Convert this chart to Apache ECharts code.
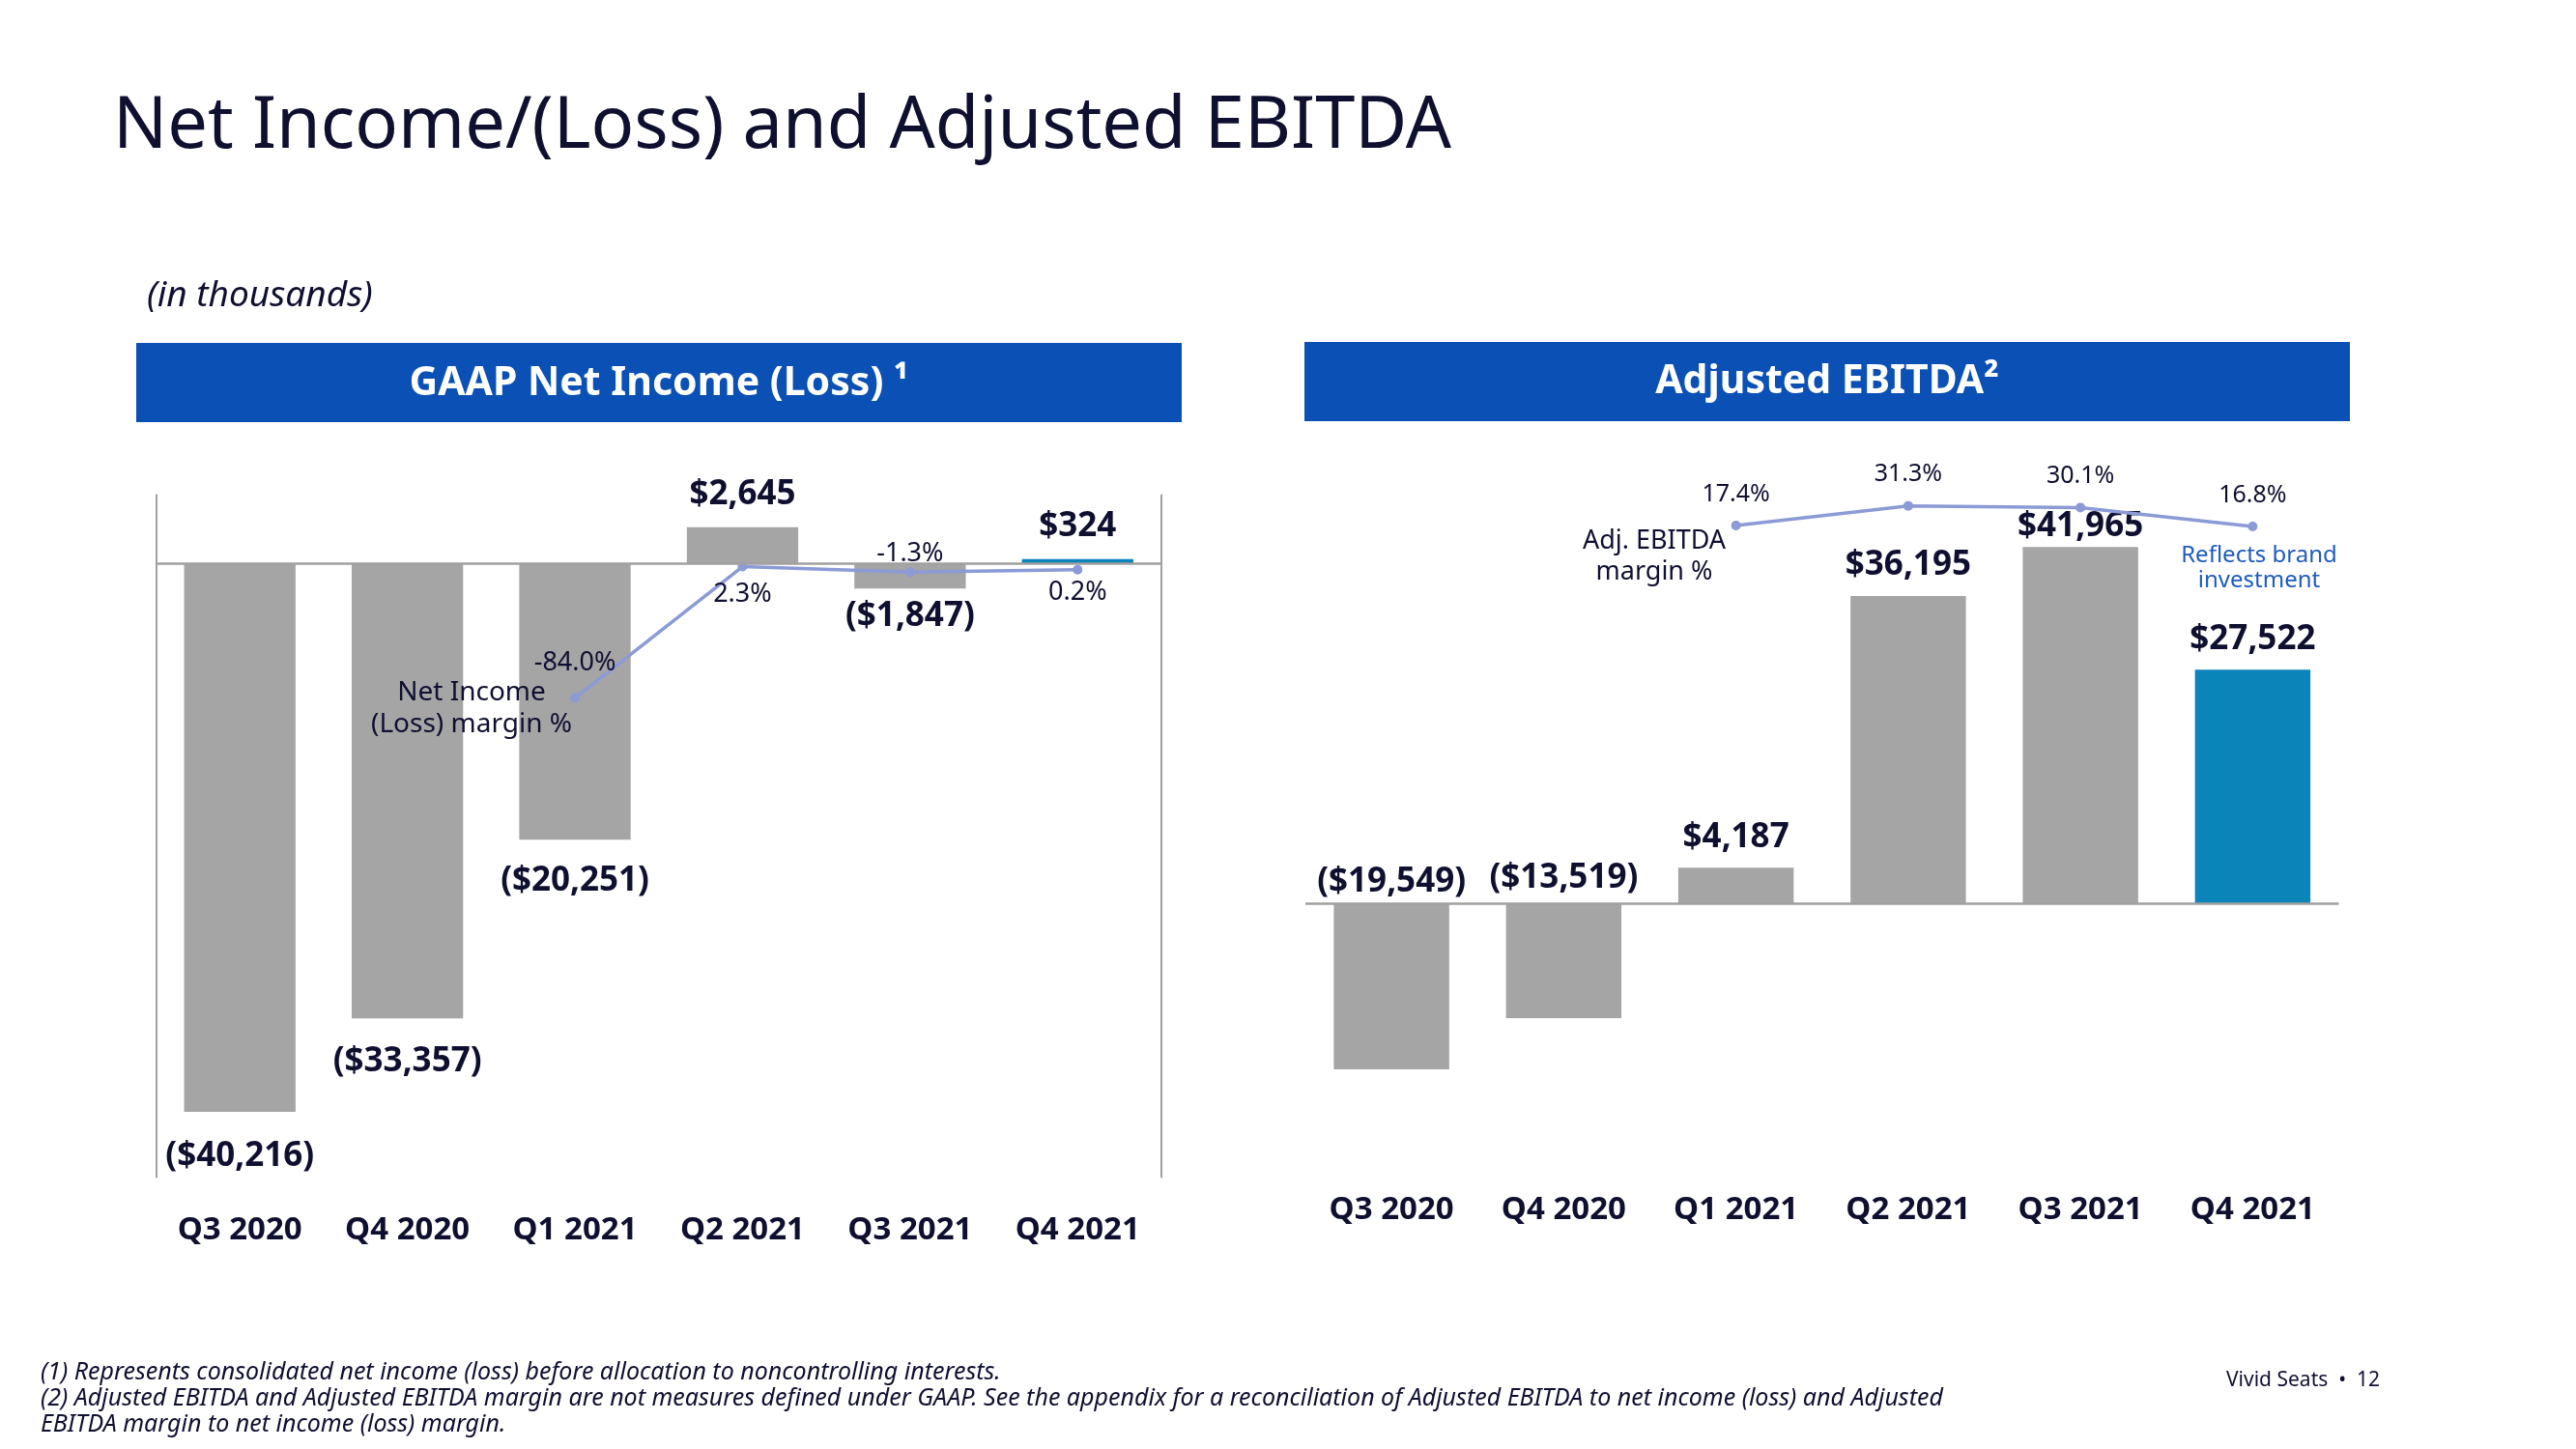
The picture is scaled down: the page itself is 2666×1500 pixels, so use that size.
<!DOCTYPE html>
<html>
<head>
<meta charset="utf-8">
<script src="https://cdn.jsdelivr.net/npm/echarts@6/dist/echarts.min.js"></script>
<style>
html,body{margin:0;padding:0;background:#fff;}
#chart{width:2666px;height:1500px;}
</style>
</head>
<body>
<div id="chart"></div>
<script>
// ---- data ----
const categories = ['Q3 2020', 'Q4 2020', 'Q1 2021', 'Q2 2021', 'Q3 2021', 'Q4 2021'];
const netIncome = [-40216, -33357, -20251, 2645, -1847, 324];
const netIncomeMargin = [null, null, -84.0, 2.3, -1.3, 0.2];
const adjEbitda = [-19549, -13519, 4187, 36195, 41965, 27522];
const adjEbitdaMargin = [null, null, 17.4, 31.3, 30.1, 16.8];
const highlightIndex = 5; // Q4 2021 drawn in blue

// ---- styles ----
const FONT = "'Noto Sans', 'Open Sans', sans-serif";
const NAVY = '#0f0f30';
const GRAY = '#a5a5a5';
const BLUE_BAR = '#0b84ba';
const HEADER = '#0b50b5';
const LINE = '#8c9ad6';
const AXIS = '#a0a0a0';

function money(v) {
  const s = '$' + Math.abs(v).toLocaleString('en-US');
  return v < 0 ? '(' + s + ')' : s;
}
function pct(v) { return v.toFixed(1) + '%'; }

const chart = echarts.init(document.getElementById('chart'), null, {renderer: 'canvas'});

const barLabelBase = {show: true, fontFamily: FONT, fontWeight: 'bold', fontSize: 35, color: NAVY, formatter: p => money(p.value)};

// left chart bars: negative labels below, positive above
const leftDist = {0: 28, 1: 27, 2: 25, 4: 11};
const leftBarData = netIncome.map((v, i) => ({
  value: v,
  itemStyle: {color: i === highlightIndex ? BLUE_BAR : GRAY},
  label: {position: v < 0 ? 'bottom' : 'top', distance: leftDist[i] !== undefined ? leftDist[i] : 16}
}));
// right chart bars: all labels above the visual top
const rightDist = {0: 5, 1: 9, 3: 14, 4: 4};
const rightBarData = adjEbitda.map((v, i) => ({
  value: v,
  itemStyle: {color: i === highlightIndex ? BLUE_BAR : GRAY},
  label: {position: 'top', distance: rightDist[i] !== undefined ? rightDist[i] : 14}
}));

const leftLinePos = {2: ['top', 18], 3: ['bottom', 10], 4: ['top', 0], 5: ['bottom', 5]};
const leftLineData = netIncomeMargin.map((v, i) => v === null ? null : ({
  value: v,
  label: {position: leftLinePos[i][0], distance: leftLinePos[i][1]}
}));

const zeroLine = {
  silent: true, symbol: 'none',
  label: {show: false},
  lineStyle: {color: AXIS, width: 2.5, type: 'solid'},
  data: [{yAxis: 0}]
};

const catAxisLabel = {fontFamily: FONT, fontWeight: 'bold', fontSize: 33, color: NAVY};

function txt(text, x, y, opt) {
  return {
    type: 'text', x: x, y: y, silent: true, z: 100,
    style: Object.assign({
      text: text, fill: NAVY, font: opt.font,
      textAlign: opt.align || 'left', align: opt.align || 'left',
      textVerticalAlign: 'middle', verticalAlign: 'middle',
      lineHeight: opt.lineHeight
    }, opt.style || {})
  };
}

const option = {
  backgroundColor: '#ffffff',
  animation: false,
  grid: [
    {left: 161.5, width: 1040.5, top: 512.6, height: 706, containLabel: false},
    {left: 1351, width: 1069.5, top: 495.6, height: 720.9, containLabel: false}
  ],
  xAxis: [
    {type: 'category', gridIndex: 0, data: categories, position: 'bottom',
     axisLine: {show: false, onZero: false}, axisTick: {show: false},
     axisLabel: Object.assign({margin: 38}, catAxisLabel)},
    {type: 'category', gridIndex: 1, data: categories, position: 'bottom',
     axisLine: {show: false, onZero: false}, axisTick: {show: false},
     axisLabel: Object.assign({margin: 20}, catAxisLabel)}
  ],
  yAxis: [
    {type: 'value', gridIndex: 0, min: -45000, max: 5000, position: 'left',
     axisLine: {show: true, lineStyle: {color: AXIS, width: 2}}, axisTick: {show: false},
     axisLabel: {show: false}, splitLine: {show: false}},
    {type: 'value', gridIndex: 0, min: -398.7, max: 49.2, position: 'right',
     axisLine: {show: true, lineStyle: {color: AXIS, width: 2}}, axisTick: {show: false},
     axisLabel: {show: false}, splitLine: {show: false}},
    {type: 'value', gridIndex: 1, min: -32000, max: 50000,
     axisLine: {show: false}, axisTick: {show: false},
     axisLabel: {show: false}, splitLine: {show: false}},
    {type: 'value', gridIndex: 1, min: -440.7, max: 50.4,
     axisLine: {show: false}, axisTick: {show: false},
     axisLabel: {show: false}, splitLine: {show: false}}
  ],
  series: [
    {type: 'bar', xAxisIndex: 0, yAxisIndex: 0, data: leftBarData, barCategoryGap: '33.5%',
     label: barLabelBase, markLine: zeroLine, z: 2},
    {type: 'line', xAxisIndex: 0, yAxisIndex: 1, data: leftLineData, connectNulls: false,
     symbol: 'circle', symbolSize: 10, lineStyle: {color: LINE, width: 3.5}, itemStyle: {color: LINE},
     label: {show: true, fontFamily: FONT, fontSize: 27, color: NAVY, formatter: p => pct(p.value)}, z: 4},
    {type: 'bar', xAxisIndex: 1, yAxisIndex: 2, data: rightBarData, barCategoryGap: '33%',
     label: barLabelBase, markLine: zeroLine, z: 2},
    {type: 'line', xAxisIndex: 1, yAxisIndex: 3, data: adjEbitdaMargin,
     symbol: 'circle', symbolSize: 10, lineStyle: {color: LINE, width: 3.5}, itemStyle: {color: LINE},
     label: {show: true, position: 'top', distance: 15, fontFamily: FONT, fontSize: 25, color: NAVY, formatter: p => pct(p.value)}, z: 4}
  ],
  graphic: [
    txt('Net Income/(Loss) and Adjusted EBITDA', 117, 132, {font: '400 74px ' + FONT}),
    txt('(in thousands)', 152, 306, {font: 'italic 400 37px ' + FONT}),
    {type: 'rect', silent: true, z: 90, shape: {x: 141, y: 355, width: 1082, height: 82}, style: {fill: HEADER}},
    {type: 'rect', silent: true, z: 90, shape: {x: 1350, y: 354, width: 1082, height: 82}, style: {fill: HEADER}},
    txt('GAAP Net Income (Loss) ¹', 682, 397, {font: '700 41px ' + FONT, align: 'center', style: {fill: '#ffffff'}}),
    txt('Adjusted EBITDA²', 1891, 395, {font: '700 41px ' + FONT, align: 'center', style: {fill: '#ffffff'}}),
    txt('Net Income\n(Loss) margin %', 488, 734, {font: '400 28px ' + FONT, align: 'center', lineHeight: 33}),
    txt('Adj. EBITDA\nmargin %', 1712, 576, {font: '400 27px ' + FONT, align: 'center', lineHeight: 32}),
    txt('Reflects brand\ninvestment', 2338, 588, {font: '400 24px ' + FONT, align: 'center', lineHeight: 26, style: {fill: '#1f5bbf'}}),
    txt('(1) Represents consolidated net income (loss) before allocation to noncontrolling interests.', 42, 1421, {font: 'italic 400 25px ' + FONT}),
    txt('(2) Adjusted EBITDA and Adjusted EBITDA margin are not measures defined under GAAP. See the appendix for a reconciliation of Adjusted EBITDA to net income (loss) and Adjusted', 42, 1448, {font: 'italic 400 25px ' + FONT}),
    txt('EBITDA margin to net income (loss) margin.', 42, 1475, {font: 'italic 400 25px ' + FONT}),
    txt('Vivid Seats  •  12', 2304, 1429, {font: '400 21px ' + FONT})
  ]
};

chart.setOption(option);
</script>
</body>
</html>
